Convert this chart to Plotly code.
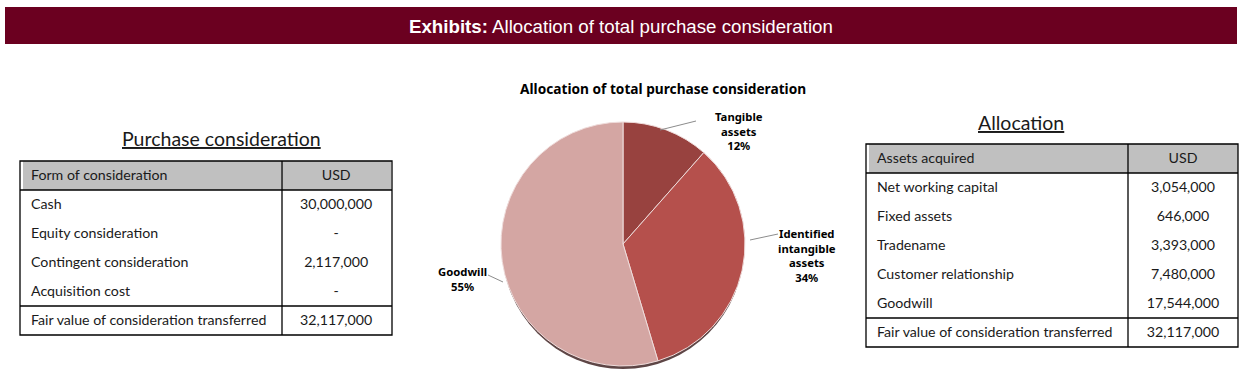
import plotly.graph_objects as go

W, H = 1246, 383

# ---------------- data ----------------
purchase_items = ["Cash", "Equity consideration", "Contingent consideration", "Acquisition cost"]
purchase_values = [30000000, None, 2117000, None]
purchase_total_label = "Fair value of consideration transferred"

alloc_items = ["Net working capital", "Fixed assets", "Tradename", "Customer relationship", "Goodwill"]
alloc_values = [3054000, 646000, 3393000, 7480000, 17544000]
alloc_total_label = "Fair value of consideration transferred"

pie_labels = ["Tangible assets", "Identified intangible assets", "Goodwill"]
pie_groups = [[0, 1], [2, 3], [4]]  # indexes into alloc_values
pie_colors = ["#98423F", "#B5504C", "#D4A6A3"]

# ---------------- helpers ----------------
def px(x):
    return x / W

def py(y):
    return 1 - y / H

def fmt(v):
    return "-" if v is None else f"{v:,.0f}"

FONT = "Lato"
TXT = "#1a1a1a"
TSIZE = 14.2

fig = go.Figure()

# ---------------- left table ----------------
p_total = sum(v for v in purchase_values if v is not None)
L = dict(x0=20, x1=392, xs=282, top=161, rh=29)
fig.add_trace(go.Table(
    domain=dict(x=[px(L["x0"] + 3), px(L["x1"])], y=[0, py(L["top"])]),
    columnwidth=[L["xs"] - L["x0"] - 3, L["x1"] - L["xs"]],
    header=dict(values=["Form of consideration", "USD"], height=L["rh"],
                fill_color="#C0C0C0", line=dict(color="rgba(0,0,0,0)", width=0),
                align=["left", "center"], font=dict(family=FONT, size=TSIZE, color=TXT)),
    cells=dict(values=[purchase_items + [purchase_total_label],
                       [fmt(v) for v in purchase_values] + [fmt(p_total)]],
               height=L["rh"], fill_color="white",
               line=dict(color="rgba(0,0,0,0)", width=0),
               align=["left", "center"], font=dict(family=FONT, size=TSIZE, color=TXT)),
))

# ---------------- right table ----------------
a_total = sum(alloc_values)
R = dict(x0=866, x1=1238, xs=1128, top=144, rh=29)
fig.add_trace(go.Table(
    domain=dict(x=[px(R["x0"] + 3), px(R["x1"])], y=[0, py(R["top"])]),
    columnwidth=[R["xs"] - R["x0"] - 3, R["x1"] - R["xs"]],
    header=dict(values=["Assets acquired", "USD"], height=R["rh"],
                fill_color="#C0C0C0", line=dict(color="rgba(0,0,0,0)", width=0),
                align=["left", "center"], font=dict(family=FONT, size=TSIZE, color=TXT)),
    cells=dict(values=[alloc_items + [alloc_total_label],
                       [fmt(v) for v in alloc_values] + [fmt(a_total)]],
               height=R["rh"], fill_color="white",
               line=dict(color="rgba(0,0,0,0)", width=0),
               align=["left", "center"], font=dict(family=FONT, size=TSIZE, color=TXT)),
))

shapes = []

def table_borders(T, nrows):
    x0, x1, xs, top, rh = T["x0"], T["x1"], T["xs"], T["top"], T["rh"]
    bottom = top + rh * (nrows + 2)
    ln = dict(color="black", width=1.3)
    shapes.append(dict(type="rect", xref="paper", yref="paper",
                       x0=px(x0), x1=px(x1), y0=py(bottom), y1=py(top), line=ln))
    shapes.append(dict(type="line", xref="paper", yref="paper",
                       x0=px(xs), x1=px(xs), y0=py(bottom), y1=py(top), line=ln))
    for yy in (top + rh, top + rh * (nrows + 1)):
        shapes.append(dict(type="line", xref="paper", yref="paper",
                           x0=px(x0), x1=px(x1), y0=py(yy), y1=py(yy), line=ln))

table_borders(L, len(purchase_items))
table_borders(R, len(alloc_items))

# ---------------- header bar ----------------
shapes.append(dict(type="rect", xref="paper", yref="paper", layer="below",
                   x0=px(5), x1=px(1237), y0=py(44), y1=py(7),
                   fillcolor="#6B0020", line=dict(width=0)))

# ---------------- pie ----------------
pie_values = [sum(alloc_values[i] for i in g) for g in pie_groups]
pie_pct = [round(100 * v / sum(pie_values)) for v in pie_values]
cx, cy, r = 623, 244, 122

shapes.append(dict(type="circle", xref="paper", yref="paper", layer="below",
                   x0=px(cx - r + 1), x1=px(cx + r - 1), y0=py(cy + r + 3), y1=py(cy - r + 3),
                   fillcolor="#5E4646", line=dict(width=0)))

fig.add_trace(go.Pie(
    labels=pie_labels, values=pie_values, sort=False, direction="clockwise",
    rotation=0, textinfo="none", hoverinfo="skip", showlegend=False,
    marker=dict(colors=pie_colors, line=dict(color="#EFDCDB", width=1)),
    domain=dict(x=[px(cx - r), px(cx + r)], y=[py(cy + r), py(cy - r)]),
))

annotations = []

annotations.append(dict(
    text="<b>Exhibits:</b> Allocation of total purchase consideration",
    x=px(621), y=py(26), xref="paper", yref="paper", showarrow=False,
    xanchor="center", yanchor="middle",
    font=dict(family="Liberation Sans", size=18.7, color="white")))

annotations.append(dict(
    text="<u>Purchase consideration</u>", x=px(221), y=py(139), xref="paper", yref="paper",
    showarrow=False, xanchor="center", yanchor="middle",
    font=dict(family=FONT, size=19.5, color=TXT)))

annotations.append(dict(
    text="<u>Allocation</u>", x=px(1021), y=py(123), xref="paper", yref="paper",
    showarrow=False, xanchor="center", yanchor="middle",
    font=dict(family=FONT, size=19.5, color=TXT)))

annotations.append(dict(
    text="<b>Allocation of total purchase consideration</b>", x=px(663), y=py(88),
    xref="paper", yref="paper", showarrow=False, xanchor="center", yanchor="middle",
    font=dict(family="Noto Sans", size=13.7, color="black")))

label_lines = [
    ["Tangible", "assets"],
    ["Identified", "intangible", "assets"],
    ["Goodwill"],
]
label_pos = [(739, 131), (807, 255), (462, 279)]
leaders = [((660, 130), (696, 121)), ((750, 240), (778, 234)), ((503, 282), (488, 275))]
for lines, pct, (lx, ly), (p0, p1) in zip(label_lines, pie_pct, label_pos, leaders):
    annotations.append(dict(
        text="<b>" + "<br>".join(lines + [f"{pct}%"]) + "</b>",
        x=px(lx), y=py(ly), xref="paper", yref="paper", showarrow=False,
        xanchor="center", yanchor="middle", align="center",
        font=dict(family="Noto Sans", size=11.3, color="black")))
    shapes.append(dict(type="line", xref="paper", yref="paper",
                       x0=px(p0[0]), y0=py(p0[1]), x1=px(p1[0]), y1=py(p1[1]),
                       line=dict(color="#8C8C8C", width=1)))

fig.update_layout(
    width=W, height=H, margin=dict(l=0, r=0, t=0, b=0),
    paper_bgcolor="white", plot_bgcolor="white",
    shapes=shapes, annotations=annotations,
)

fig.write_html("out.html", config={"displayModeBar": False},
               post_script="document.body.style.margin='0';")
